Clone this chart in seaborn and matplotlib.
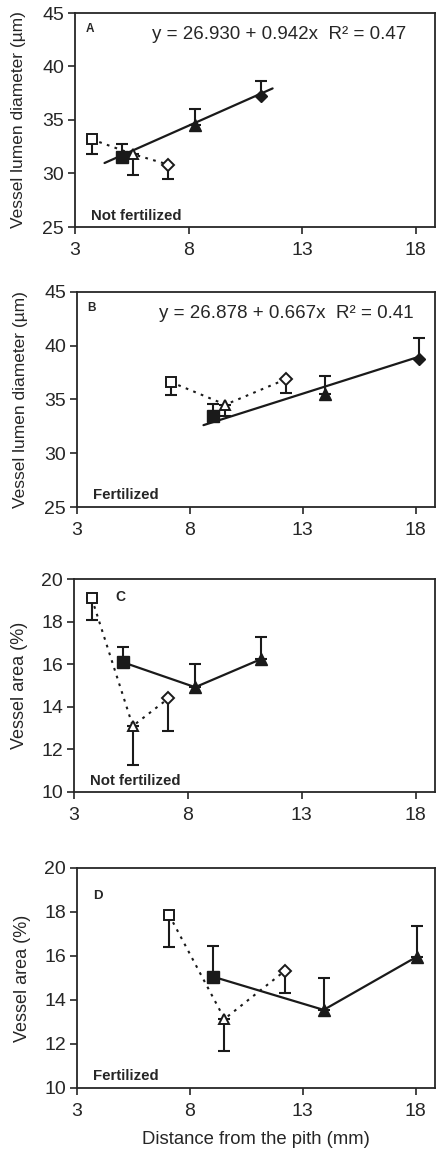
import numpy as np
import matplotlib
matplotlib.use("Agg")
import matplotlib.pyplot as plt
import seaborn as sns
import pandas as pd

sns.set_style("white")
plt.rcParams['font.family'] = ['Liberation Sans', 'DejaVu Sans']

# ---------------- data ----------------
# Panel A (not fertilized, lumen diameter)
A_open_x = [3.73, 5.56, 7.10]
A_open_y = [33.2, 31.8, 30.84]
A_open_err = [1.4, 1.95, 1.37]
A_fill_x = [5.09, 8.27, 11.17]
A_fill_y = [31.56, 34.5, 37.28]
A_fill_err = [1.2, 1.5, 1.38]
A_fill_markers = ['s', '^', 'D']
A_reg = (26.930, 0.942)
A_reg_range = (4.3, 11.7)

# Panel B (fertilized, lumen diameter)
B_open_x = [7.15, 9.57, 12.24]
B_open_y = [36.63, 34.52, 36.88]
B_open_err = [1.24, 1.1, 1.28]
B_fill_x = [9.03, 14.0, 18.12]
B_fill_y = [33.43, 35.54, 38.74]
B_fill_err = [1.17, 1.65, 2.0]
B_fill_markers = ['s', '^', 'D']
B_reg = (26.878, 0.667)
B_reg_range = (8.6, 18.1)

# Panel C (not fertilized, vessel area)
C_open_x = [3.78, 5.58, 7.14]
C_open_y = [19.09, 13.1, 14.39]
C_open_err = [1.0, 1.85, 1.52]
C_fill_x = [5.15, 8.32, 11.19]
C_fill_y = [16.09, 14.92, 16.23]
C_fill_err = [0.71, 1.08, 1.04]
C_fill_markers = ['s', '^', '^']

# Panel D (fertilized, vessel area)
D_open_x = [7.08, 9.53, 12.21]
D_open_y = [17.86, 13.14, 15.33]
D_open_err = [1.47, 1.48, 1.03]
D_fill_x = [9.02, 13.92, 18.05]
D_fill_y = [15.06, 13.55, 15.97]
D_fill_err = [1.39, 1.47, 1.39]
D_fill_markers = ['s', '^', '^']

open_markers = ['s', '^', 'D']
x_ticks = [3, 8, 13, 18]
diam_ticks = [25, 30, 35, 40, 45]
area_ticks = [10, 12, 14, 16, 18, 20]
panel_labels = ['A', 'B', 'C', 'D']
treat_labels = ['Not fertilized', 'Fertilized', 'Not fertilized', 'Fertilized']

W, H = 437, 1158
fig = plt.figure(figsize=(W / 100, H / 100), dpi=100)

def ax_at(left, top, right, bottom):
    return fig.add_axes([left / W, 1 - bottom / H, (right - left) / W, (bottom - top) / H])

axes = [ax_at(75, 13, 435, 227), ax_at(77, 292, 435, 507),
        ax_at(74, 579, 435, 792), ax_at(77, 868, 435, 1088)]

panels = [
    (A_open_x, A_open_y, A_open_err, A_fill_x, A_fill_y, A_fill_err, A_fill_markers, A_reg, A_reg_range),
    (B_open_x, B_open_y, B_open_err, B_fill_x, B_fill_y, B_fill_err, B_fill_markers, B_reg, B_reg_range),
    (C_open_x, C_open_y, C_open_err, C_fill_x, C_fill_y, C_fill_err, C_fill_markers, None, None),
    (D_open_x, D_open_y, D_open_err, D_fill_x, D_fill_y, D_fill_err, D_fill_markers, None, None),
]

col = '#1a1a1a'
tcol = '#262626'
for i, (ax, p) in enumerate(zip(axes, panels)):
    ox, oy, oe, fx, fy, fe, fm, reg, rr = p
    # error bars: open downward, filled upward
    ax.errorbar(ox, oy, yerr=[oe, [0] * len(oe)], fmt='none', ecolor=col,
                elinewidth=1.5, capsize=4, capthick=1.5, zorder=2)
    ax.errorbar(fx, fy, yerr=[[0] * len(fe), fe], fmt='none', ecolor=col,
                elinewidth=1.5, capsize=4, capthick=1.5, zorder=2)
    # dotted line for open series
    dfo = pd.DataFrame({'x': ox, 'y': oy})
    sns.lineplot(data=dfo, x='x', y='y', ax=ax, color=col, lw=1.5,
                 linestyle=(0, (1.3, 2.6)), sort=False, zorder=3)
    if reg is not None:
        xr = np.linspace(rr[0], rr[1], 2)
        dfr = pd.DataFrame({'x': xr, 'y': reg[0] + reg[1] * xr})
        sns.lineplot(data=dfr, x='x', y='y', ax=ax, color=col, lw=1.6, zorder=3)
    else:
        dff = pd.DataFrame({'x': fx, 'y': fy})
        sns.lineplot(data=dff, x='x', y='y', ax=ax, color=col, lw=1.6, sort=False, zorder=3)
    for x, y, m in zip(ox, oy, open_markers):
        ax.plot([x], [y], marker=m, ms=7.5 if m != 'D' else 6, mfc='white',
                mec=col, mew=1.4, ls='none', zorder=5)
    for x, y, m in zip(fx, fy, fm):
        ax.plot([x], [y], marker=m, ms=8.5 if m != 'D' else 6.5, mfc=col,
                mec=col, mew=1.0, ls='none', zorder=5)

    ax.set_xlim(3, 18.85)
    ax.set_xticks(x_ticks)
    if i < 2:
        ax.set_ylim(25, 45)
        ax.set_yticks(diam_ticks)
        ax.set_ylabel('Vessel lumen diameter (\u00b5m)', fontsize=12.5, color=tcol)
        ax.yaxis.set_label_coords(-49 / 360, 0.5)
    else:
        ax.set_ylim(10, 20)
        ax.set_yticks(area_ticks)
        ax.set_ylabel('Vessel area (%)', fontsize=13, color=tcol)
        ax.yaxis.set_label_coords(-46 / 360, 0.5)
    ax.set_xlabel('')
    ax.tick_params(axis='both', labelsize=14, colors=tcol, direction='out',
                   length=5, width=1.2, left=True, bottom=True, pad=3)
    ax.tick_params(axis='x', pad=6)
    for s in ax.spines.values():
        s.set_color(tcol)
        s.set_linewidth(1.3)
    ax.grid(False)

# panel letters and treatment labels
axes[0].text(0.03, 0.91, 'A', transform=axes[0].transAxes, fontsize=8.5, fontweight='bold', color=tcol)
axes[1].text(0.03, 0.91, 'B', transform=axes[1].transAxes, fontsize=8.5, fontweight='bold', color=tcol)
axes[2].text(0.115, 0.895, 'C', transform=axes[2].transAxes, fontsize=10, fontweight='bold', color=tcol)
axes[3].text(0.045, 0.86, 'D', transform=axes[3].transAxes, fontsize=9.5, fontweight='bold', color=tcol)
for ax, t in zip(axes, treat_labels):
    ax.text(0.045, 0.035, t, transform=ax.transAxes, fontsize=10.8, fontweight='bold', color=tcol)

axes[0].text(0.567, 0.9, 'y = %.3f + %.3fx  R\u00b2 = 0.47' % A_reg, transform=axes[0].transAxes,
             ha='center', va='center', fontsize=13.5, color=tcol)
axes[1].text(0.585, 0.9, 'y = %.3f + %.3fx  R\u00b2 = 0.41' % B_reg, transform=axes[1].transAxes,
             ha='center', va='center', fontsize=13.5, color=tcol)

axes[3].set_xlabel('Distance from the pith (mm)', fontsize=13.3, color=tcol, labelpad=8)

fig.savefig('out.png', dpi=100)
